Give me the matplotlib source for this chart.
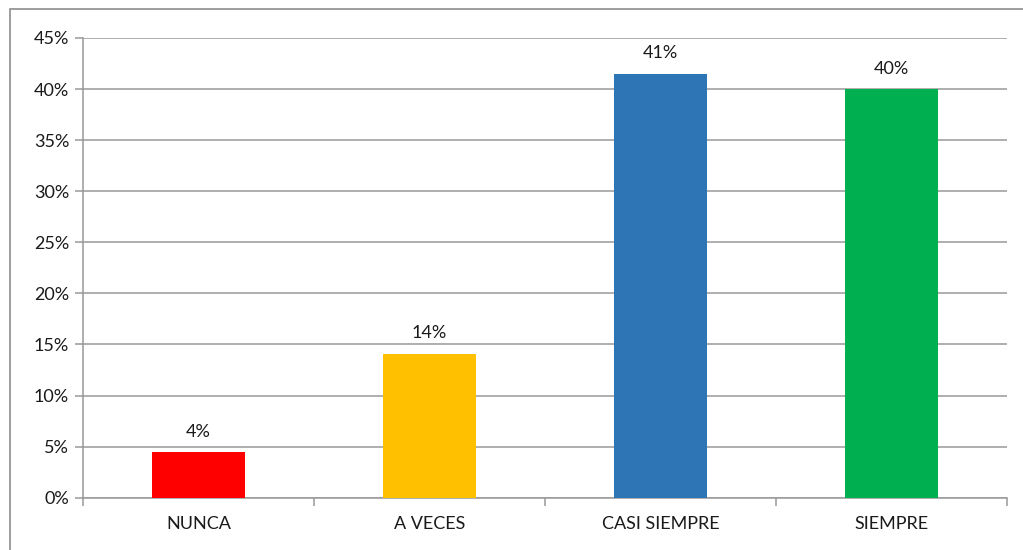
import matplotlib.pyplot as plt
from matplotlib.patches import Rectangle
from matplotlib.ticker import FuncFormatter, MultipleLocator

# Datos
categorias = ["NUNCA", "A VECES", "CASI SIEMPRE", "SIEMPRE"]
valores = [4.47, 14.07, 41.48, 40.0]
etiquetas = ["4%", "14%", "41%", "40%"]
colores = ["#FF0000", "#FFC000", "#2E75B6", "#00B050"]

plt.rcParams['font.family'] = ['Lato', 'DejaVu Sans']

fig = plt.figure(figsize=(10.23, 5.5), dpi=100)
ax = fig.add_axes([83 / 1023, 1 - 497.7 / 550, (1007 - 83) / 1023, (497.7 - 38) / 550])

# Marco exterior del gráfico
fig.patches.append(Rectangle((10 / 1023, -0.1), 1.2, 1 - 9 / 550 + 0.1,
                             transform=fig.transFigure, fill=False,
                             edgecolor='#8C8C8C', linewidth=1.2))

x = range(len(categorias))
ax.bar(x, valores, width=0.4, color=colores, zorder=3)

for xi, v, lab in zip(x, valores, etiquetas):
    ax.annotate(lab, (xi, v), xytext=(0, 9), textcoords='offset points',
                ha='center', va='bottom', fontsize=13, color='#1a1a1a')

ax.set_xlim(-0.5, 3.5)
ax.set_ylim(0, 45)
ax.yaxis.set_major_locator(MultipleLocator(5))
ax.yaxis.set_major_formatter(FuncFormatter(lambda v, p: f"{v:.0f}%"))
ax.grid(axis='y', color='#999999', linewidth=1.1, zorder=0)

ax.set_xticks(list(x))
ax.set_xticklabels(categorias, fontsize=13, color='#1a1a1a')
ax.set_xticks([-0.5, 0.5, 1.5, 2.5, 3.5], minor=True)
ax.tick_params(axis='x', which='major', length=0, pad=13)
ax.tick_params(axis='x', which='minor', length=6, color='#999999', width=1.1)
ax.tick_params(axis='y', length=6, color='#999999', width=1.1, labelsize=13,
               labelcolor='#1a1a1a', pad=4)

for s in ['top', 'right']:
    ax.spines[s].set_visible(False)
for s in ['left', 'bottom']:
    ax.spines[s].set_color('#999999')
    ax.spines[s].set_linewidth(1.1)

plt.savefig('out.png', dpi=100)
